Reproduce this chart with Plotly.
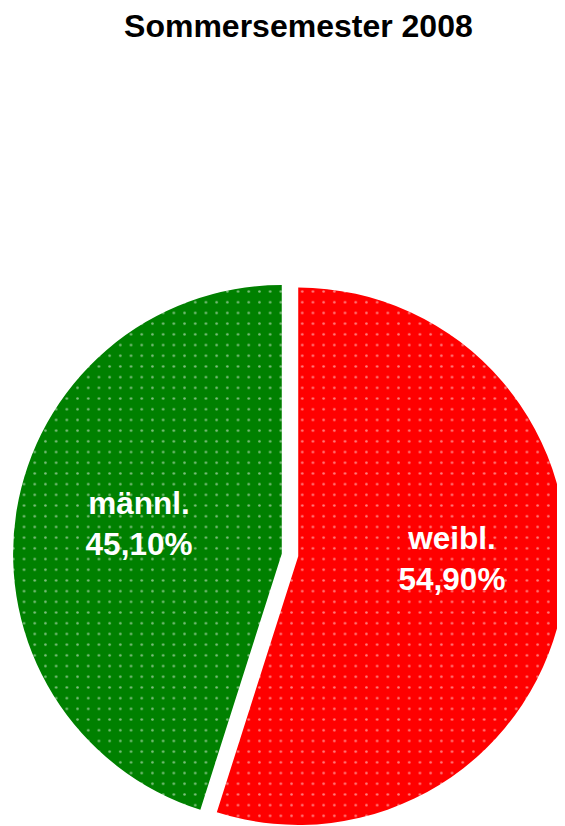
import plotly.graph_objects as go

labels = ["weibl.", "männl."]
values = [54.9, 45.1]
colors = ["#FF0000", "#008000"]
title_text = "Sommersemester 2008"

FONT = "Liberation Sans, Arial, Helvetica, sans-serif"
W, H = 565, 826

# visible pie (slices + dotted pattern)
pie_slices = go.Pie(
    labels=labels,
    values=values,
    sort=False,
    direction="clockwise",
    rotation=0,
    pull=0.031,
    marker=dict(
        colors=colors,
        line=dict(width=0),
        pattern=dict(shape=".", fgcolor="white", size=10.7, solidity=0.045, fillmode="overlay"),
    ),
    textinfo="none",
    showlegend=False,
    hoverinfo="skip",
    domain=dict(x=[0, 1], y=[0, 0.67233]),
)

# transparent companion pie that only carries the slice labels
pie_labels = go.Pie(
    labels=labels,
    values=values,
    sort=False,
    direction="clockwise",
    rotation=-2.6,
    hole=0.166,
    marker=dict(colors=["rgba(0,0,0,0)"] * len(labels), line=dict(width=0)),
    texttemplate="%{label}<br>%{percent:.2%}",
    textposition="inside",
    insidetextorientation="horizontal",
    textfont=dict(family=FONT, size=31.5, color="white", weight="bold"),
    showlegend=False,
    hoverinfo="skip",
    domain=dict(x=[0.02256, 0.99729], y=[0.025485, 0.680825]),
)

fig = go.Figure([pie_slices, pie_labels])

fig.update_layout(
    width=W,
    height=H,
    margin=dict(l=5, r=6, t=0, b=2),
    separators=",.",
    paper_bgcolor="white",
    plot_bgcolor="white",
    title=dict(
        text=title_text,
        x=0.514,
        xanchor="center",
        xref="container",
        y=1 - 18 / H,
        yref="container",
        yanchor="middle",
        font=dict(family=FONT, size=32, color="black", weight="bold"),
    ),
)

fig.write_html("out.html")
